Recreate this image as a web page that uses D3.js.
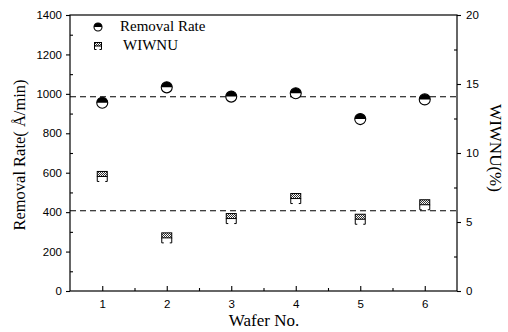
<!DOCTYPE html>
<html lang="en">
<head>
    <meta charset="UTF-8">
    <title></title>
    <style>
        body { margin: 0; background: #fff; }
    </style>
</head>
<body>
</body>
<script src="https://cdn.jsdelivr.net/npm/d3@7/dist/d3.min.js" charset="utf-8"></script>
<script>
    // data
    var wafers = [1, 2, 3, 4, 5, 6];
    var removalRate = [955, 1033, 986, 1003, 872, 972];
    var wiwnu = [8.3, 3.85, 5.25, 6.7, 5.2, 6.25];
    var rateMean = 985;
    var wiwnuMean = 5.82;
    var xTicks = [1, 2, 3, 4, 5, 6];
    var leftTicks = [0, 200, 400, 600, 800, 1000, 1200, 1400];
    var rightTicks = [0, 5, 10, 15, 20];

    var W = 508, H = 332;
    var m = {left: 70, right: 51, top: 15, bottom: 41};
    var serif = "'Liberation Serif', 'Times New Roman', serif";

    var svg = d3.select("body").append("svg")
            .attr("width", W)
            .attr("height", H);

    var x = d3.scaleLinear().domain([0.5, 6.5]).range([m.left, W - m.right]);
    var yL = d3.scaleLinear().domain([0, 1400]).range([H - m.bottom, m.top]);
    var yR = d3.scaleLinear().domain([0, 20]).range([H - m.bottom, m.top]);

    // checker pattern for the square markers
    var defs = svg.append("defs");
    var pat = defs.append("pattern")
            .attr("id", "check")
            .attr("width", 2).attr("height", 2)
            .attr("patternUnits", "userSpaceOnUse");
    pat.append("rect").attr("width", 2).attr("height", 2).attr("fill", "#fff");
    pat.append("rect").attr("width", 1).attr("height", 1).attr("fill", "#333");
    pat.append("rect").attr("x", 1).attr("y", 1).attr("width", 1).attr("height", 1).attr("fill", "#333");

    // frame
    svg.append("rect")
            .attr("x", m.left).attr("y", m.top)
            .attr("width", W - m.left - m.right)
            .attr("height", H - m.top - m.bottom)
            .style("fill", "none")
            .style("stroke", "#000")
            .style("stroke-width", 1.2);

    // bottom axis, ticks pointing inward
    svg.append("g")
            .attr("transform", "translate(0," + (H - m.bottom) + ")")
            .call(d3.axisBottom(x).tickValues(xTicks).tickFormat(d3.format("d")).tickSize(-5).tickPadding(9));
    svg.append("g")
            .attr("transform", "translate(0," + (H - m.bottom) + ")")
            .call(d3.axisBottom(x).tickValues([1.5, 2.5, 3.5, 4.5, 5.5]).tickFormat("").tickSize(-3));

    svg.append("g")
            .attr("transform", "translate(" + m.left + ",0)")
            .call(d3.axisLeft(yL).tickValues(leftTicks).tickFormat(d3.format("d")).tickSize(4).tickPadding(4));
    svg.append("g")
            .attr("transform", "translate(" + m.left + ",0)")
            .call(d3.axisLeft(yL).tickValues(d3.range(100, 1400, 200)).tickFormat("").tickSize(-3));

    svg.append("g")
            .attr("transform", "translate(" + (W - m.right) + ",0)")
            .call(d3.axisRight(yR).tickValues(rightTicks).tickFormat(d3.format("d")).tickSize(4).tickPadding(5));
    svg.append("g")
            .attr("transform", "translate(" + (W - m.right) + ",0)")
            .call(d3.axisRight(yR).tickValues([2.5, 7.5, 12.5, 17.5]).tickFormat("").tickSize(-3));

    svg.selectAll(".domain").remove();
    svg.selectAll(".tick line").style("stroke", "#000").style("stroke-width", 1.1);
    svg.selectAll(".tick text")
            .style("font-family", "'Liberation Sans', Arial, sans-serif")
            .style("font-size", "11.5px")
            .style("fill", "#000");

    // mean lines
    svg.append("line")
            .attr("x1", m.left).attr("x2", W - m.right)
            .attr("y1", yL(rateMean)).attr("y2", yL(rateMean))
            .style("stroke", "#000").style("stroke-width", 1.1)
            .style("stroke-dasharray", "6,4");
    svg.append("line")
            .attr("x1", m.left).attr("x2", W - m.right)
            .attr("y1", yR(wiwnuMean)).attr("y2", yR(wiwnuMean))
            .style("stroke", "#000").style("stroke-width", 1.1)
            .style("stroke-dasharray", "6,4");

    // half filled circle marker
    function circleMarker(g, cx, cy, r) {
        g.append("circle")
                .attr("cx", cx).attr("cy", cy).attr("r", r)
                .style("fill", "#fff").style("stroke", "#000").style("stroke-width", 1.1);
        g.append("path")
                .attr("d", "M" + (cx - r) + "," + cy + " A" + r + "," + r + " 0 0,1 " + (cx + r) + "," + cy + " Z")
                .style("fill", "#000");
    }

    // square marker with hatched top half
    function squareMarker(g, cx, cy, s) {
        g.append("rect")
                .attr("x", cx - s / 2).attr("y", cy - s / 2)
                .attr("width", s).attr("height", s / 2)
                .style("fill", "url(#check)").style("stroke", "#000").style("stroke-width", 1);
        g.append("path")
                .attr("d", "M" + (cx - s / 2) + "," + cy + " V" + (cy + s / 2) + " H" + (cx - s / 2 + 2)
                        + " M" + (cx + s / 2) + "," + cy + " V" + (cy + s / 2) + " H" + (cx + s / 2 - 2))
                .style("fill", "none").style("stroke", "#000").style("stroke-width", 1);
    }

    var pts = svg.append("g");
    wafers.forEach(function(w, i) {
        squareMarker(pts, x(w), yR(wiwnu[i]), 10);
        circleMarker(pts, x(w), yL(removalRate[i]), 5.5);
    });

    // legend
    var leg = svg.append("g");
    circleMarker(leg, 98, 27, 4);
    squareMarker(leg, 98, 46, 7);
    leg.append("text").attr("x", 120).attr("y", 31).text("Removal Rate");
    leg.append("text").attr("x", 123).attr("y", 50).text("WIWNU");
    leg.selectAll("text")
            .style("font-family", serif)
            .style("font-size", "15px");

    // axis titles
    svg.append("text")
            .attr("transform", "translate(" + 25 + "," + 155 + ") rotate(-90)")
            .style("text-anchor", "middle")
            .style("font-family", serif)
            .style("font-size", "16.5px")
            .text("Removal Rate( Å/min)");

    svg.append("text")
            .attr("transform", "translate(" + 490 + "," + 148 + ") rotate(90)")
            .style("text-anchor", "middle")
            .style("font-family", serif)
            .style("font-size", "17px")
            .text("WIWNU(%)");

    svg.append("text")
            .attr("x", 264)
            .attr("y", 326)
            .style("text-anchor", "middle")
            .style("font-family", serif)
            .style("font-size", "17px")
            .text("Wafer No.");
</script>
</html>
